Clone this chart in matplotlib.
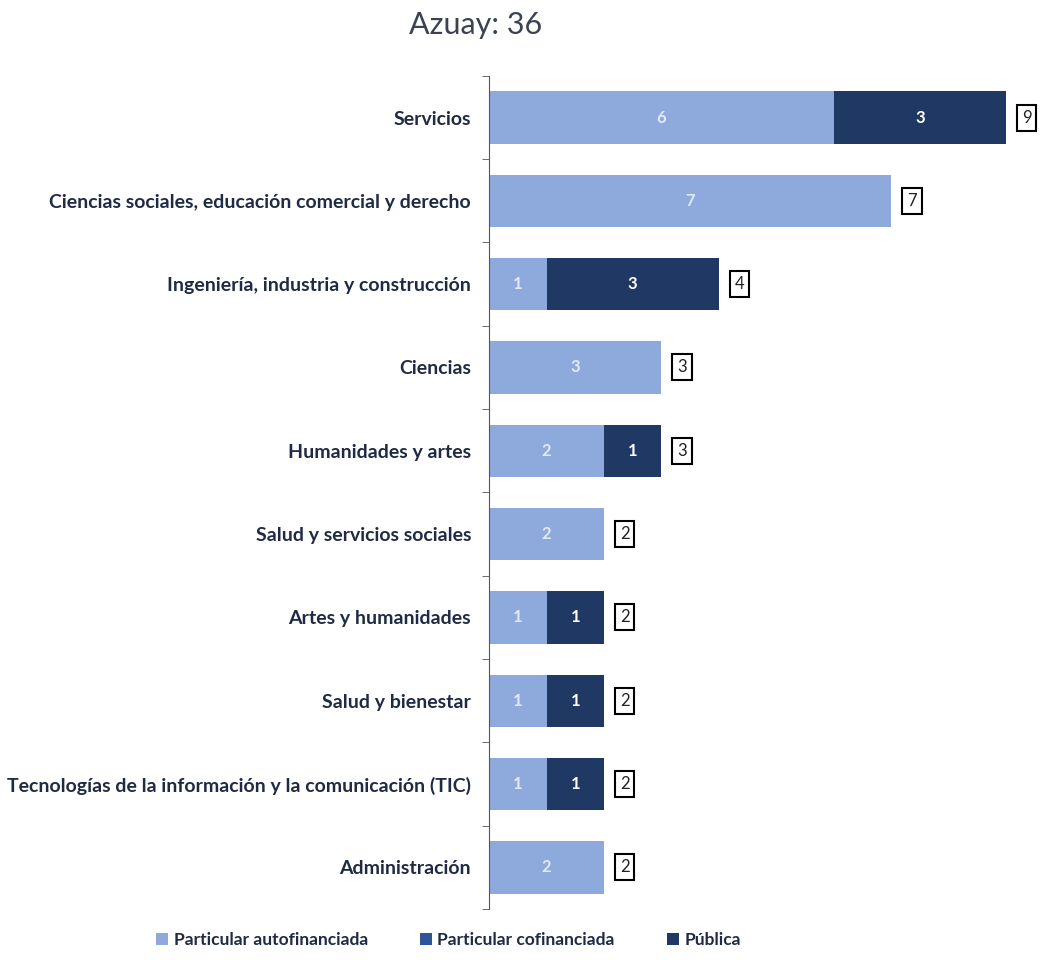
import matplotlib.pyplot as plt
import numpy as np

# Data
categorias = ["Servicios",
              "Ciencias sociales, educación comercial y derecho",
              "Ingeniería, industria y construcción",
              "Ciencias",
              "Humanidades y artes",
              "Salud y servicios sociales",
              "Artes y humanidades",
              "Salud y bienestar",
              "Tecnologías de la información y la comunicación (TIC)",
              "Administración"]
autofinanciada = [6, 7, 1, 3, 2, 2, 1, 1, 1, 2]
cofinanciada = [0, 0, 0, 0, 0, 0, 0, 0, 0, 0]
publica = [3, 0, 3, 0, 1, 0, 1, 1, 1, 0]
series = ["Particular autofinanciada", "Particular cofinanciada", "Pública"]

c_auto = '#8EA9DB'
c_cof = '#2F5597'
c_pub = '#1F3864'
txt = '#1F2A44'

plt.rcParams['font.family'] = ['Lato', 'DejaVu Sans']

fig = plt.figure(figsize=(10.43, 9.6), dpi=100)
ax = fig.add_axes([0.469, 0.053, 0.523, 0.868])

y = np.arange(len(categorias))
a = np.array(autofinanciada)
c = np.array(cofinanciada)
p = np.array(publica)
h = 0.63

ax.barh(y, a, height=h, color=c_auto, label=series[0])
ax.barh(y, c, left=a, height=h, color=c_cof, label=series[1])
ax.barh(y, p, left=a + c, height=h, color=c_pub, label=series[2])

for i in range(len(categorias)):
    if a[i] > 0:
        ax.text(a[i] / 2, y[i], str(a[i]), ha='center', va='center',
                color='#E2E9F6', fontsize=12, fontweight='bold')
    if p[i] > 0:
        ax.text(a[i] + c[i] + p[i] / 2, y[i], str(p[i]), ha='center', va='center',
                color='white', fontsize=12, fontweight='bold')
    total = a[i] + c[i] + p[i]
    ax.text(total + 0.36, y[i], str(total), ha='center', va='center',
            color='#222222', fontsize=12,
            bbox=dict(boxstyle='square,pad=0.3', fc='white', ec='black', lw=1.5))

ax.set_xlim(0, 9.5)
ax.set_ylim(len(categorias) - 0.5, -0.5)
ax.set_yticks(y)
ax.set_yticklabels(categorias, fontsize=14, fontweight='bold', color=txt)
ax.tick_params(axis='y', which='major', length=0, pad=13)
ax.set_yticks(np.arange(-0.5, len(categorias), 1), minor=True)
ax.tick_params(axis='y', which='minor', length=5, color='#555555')
ax.set_xticks([])
for s in ['top', 'right', 'bottom']:
    ax.spines[s].set_visible(False)
ax.spines['left'].set_color('#555555')

fig.text(0.456, 0.974, "Azuay: 36", ha='center', va='center',
         fontsize=22, color='#3B4250')

fig.legend(loc='center', bbox_to_anchor=(0.43, 0.021), ncol=3, frameon=False,
           handlelength=0.7, handleheight=0.7, columnspacing=3,
           handletextpad=0.3, labelcolor=txt, prop={'weight': 'bold', 'size': 12.5})

fig.savefig('out.png', dpi=100)
